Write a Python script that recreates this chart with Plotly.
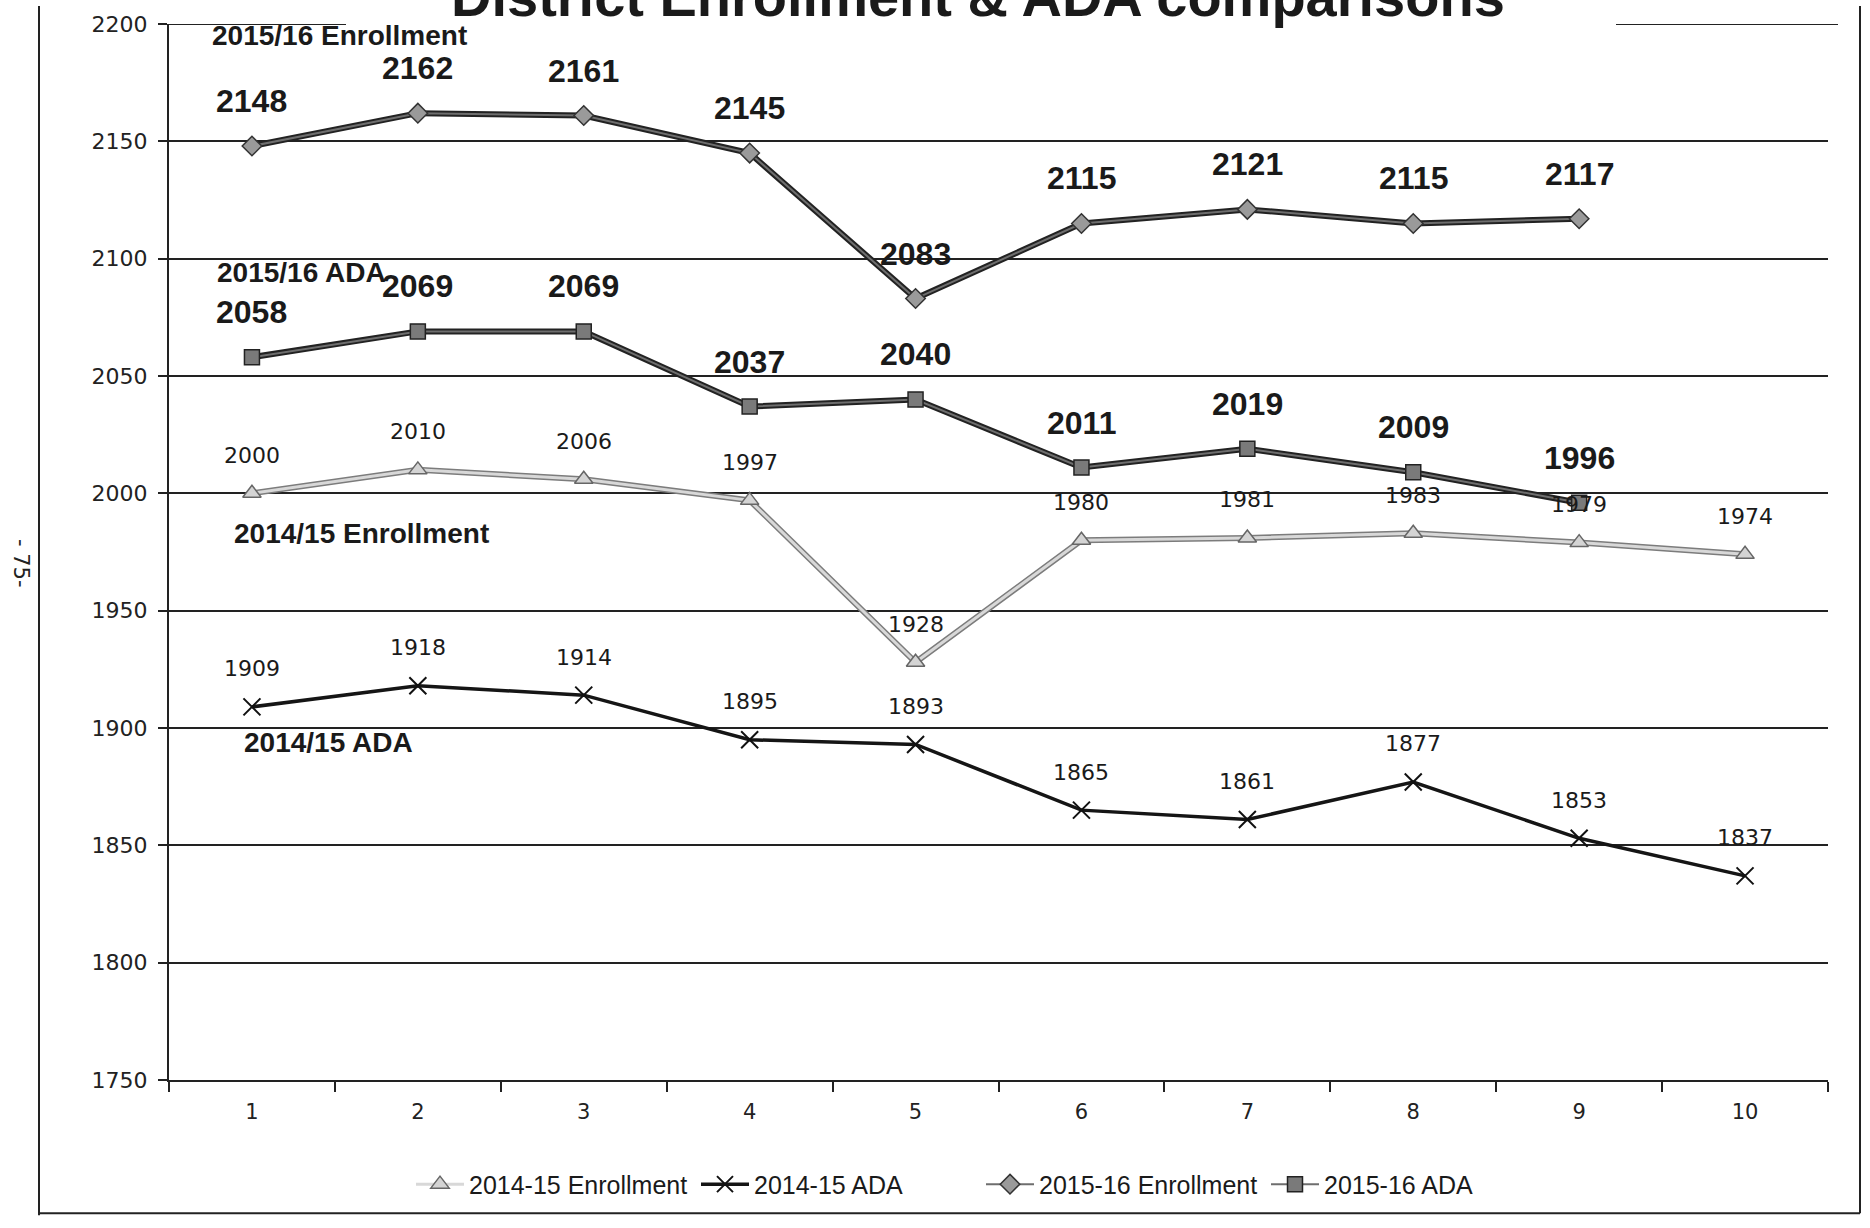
import plotly.graph_objects as go

# ---- data ----
months = ["1", "2", "3", "4", "5", "6", "7", "8", "9", "10"]
enroll_1415 = [2000, 2010, 2006, 1997, 1928, 1980, 1981, 1983, 1979, 1974]
ada_1415 = [1909, 1918, 1914, 1895, 1893, 1865, 1861, 1877, 1853, 1837]
enroll_1516 = [2148, 2162, 2161, 2145, 2083, 2115, 2121, 2115, 2117]
ada_1516 = [2058, 2069, 2069, 2037, 2040, 2011, 2019, 2009, 1996]

y_ticks = [1750, 1800, 1850, 1900, 1950, 2000, 2050, 2100, 2150, 2200]

title_text = "District Enrollment & ADA comparisons"
legend_names = ["2014-15 Enrollment", "2014-15 ADA", "2015-16 Enrollment", "2015-16 ADA"]
series_tags = ["2014/15 Enrollment", "2014/15 ADA", "2015/16 Enrollment", "2015/16 ADA"]

# ---- page geometry (pixels) ----
W, H = 1870, 1228
L, R, T, B = 169, 1828, 18, 1080


def fx(p):
    return (p - L) / (R - L)


def fy(p):
    return (B - p) / (B - T)


BOLD = "Liberation Sans, Arial, sans-serif"
PLAIN = "DejaVu Sans, Verdana, sans-serif"

fig = go.Figure()

# 2014-15 enrollment: light grey double-edged line
fig.add_trace(go.Scatter(x=months, y=enroll_1415, mode="lines",
                         line=dict(color="#7c7c7c", width=6),
                         showlegend=False, hoverinfo="skip"))
fig.add_trace(go.Scatter(x=months, y=enroll_1415, mode="lines+markers",
                         name=legend_names[0],
                         line=dict(color="#d8d8d8", width=3),
                         marker=dict(symbol="triangle-up", size=16, color="#d4d4d4",
                                     line=dict(color="#666", width=1.5))))

# 2014-15 ADA: black line with x markers
fig.add_trace(go.Scatter(x=months, y=ada_1415, mode="lines+markers",
                         name=legend_names[1],
                         line=dict(color="#151515", width=3.5),
                         marker=dict(symbol="x-thin", size=17, color="#111",
                                     line=dict(color="#111", width=2))))

# 2015-16 enrollment: dark line with grey diamonds
fig.add_trace(go.Scatter(x=months[:len(enroll_1516)], y=enroll_1516, mode="lines",
                         line=dict(color="#222222", width=6),
                         showlegend=False, hoverinfo="skip"))
fig.add_trace(go.Scatter(x=months[:len(enroll_1516)], y=enroll_1516, mode="lines+markers",
                         name=legend_names[2],
                         line=dict(color="#6e6e6e", width=2),
                         marker=dict(symbol="diamond", size=15, color="#9a9a9a",
                                     line=dict(color="#333", width=1.5))))

# 2015-16 ADA: dark line with grey squares
fig.add_trace(go.Scatter(x=months[:len(ada_1516)], y=ada_1516, mode="lines",
                         line=dict(color="#222222", width=6),
                         showlegend=False, hoverinfo="skip"))
fig.add_trace(go.Scatter(x=months[:len(ada_1516)], y=ada_1516, mode="lines+markers",
                         name=legend_names[3],
                         line=dict(color="#6e6e6e", width=2),
                         marker=dict(symbol="square", size=15, color="#7a7a7a",
                                     line=dict(color="#222", width=1.5))))

annotations = []

# value labels above each point
for vals, bold in [(enroll_1415, False), (ada_1415, False),
                   (enroll_1516, True), (ada_1516, True)]:
    for i, v in enumerate(vals):
        annotations.append(dict(
            x=i, y=v, xref="x", yref="y",
            text=("<b>%d</b>" % v) if bold else str(v), showarrow=False,
            yshift=45 if bold else 38,
            font=dict(family=BOLD if bold else PLAIN,
                      size=32 if bold else 22, color="#1a1a1a"),
            xanchor="center", yanchor="middle"))

# series tags written inside the plot
tag_pos = [(0.66, 1983), (0.46, 1894), (0.53, 2195), (0.30, 2094)]
for tag, (tx, ty) in zip(series_tags, tag_pos):
    annotations.append(dict(x=tx, y=ty, xref="x", yref="y", text="<b>%s</b>" % tag,
                            showarrow=False, xanchor="center", yanchor="middle",
                            font=dict(family=BOLD, size=28, color="#1a1a1a")))

# title (runs off the top edge of the page)
annotations.append(dict(x=fx(978), y=fy(-10), xref="paper", yref="paper",
                        text="<b>%s</b>" % title_text, showarrow=False,
                        xanchor="center", yanchor="middle",
                        font=dict(family=BOLD, size=56, color="#1a1a1a")))

# page number in the margin
annotations.append(dict(x=fx(21), y=fy(560), xref="paper", yref="paper",
                        text="- 75-", showarrow=False, textangle=90,
                        xanchor="center", yanchor="middle",
                        font=dict(family=PLAIN, size=21, color="#222")))

shapes = [
    # top grid line, interrupted where the title sits
    dict(type="line", xref="paper", yref="y", x0=0, x1=fx(346), y0=2200, y1=2200,
         line=dict(color="#222", width=2)),
    dict(type="line", xref="paper", yref="y", x0=fx(1616), x1=fx(1838), y0=2200, y1=2200,
         line=dict(color="#222", width=2)),
    # outer frame of the chart box
    dict(type="line", xref="paper", yref="paper", x0=fx(39), x1=fx(39),
         y0=fy(0), y1=fy(1216), line=dict(color="#222", width=2)),
    dict(type="line", xref="paper", yref="paper", x0=fx(39), x1=fx(1860),
         y0=fy(1214), y1=fy(1214), line=dict(color="#222", width=2)),
    dict(type="line", xref="paper", yref="paper", x0=fx(1860), x1=fx(1860),
         y0=fy(0), y1=fy(1214), line=dict(color="#222", width=2)),
]

fig.update_layout(
    width=W, height=H,
    margin=dict(l=L, r=W - R, t=T, b=H - B, pad=0),
    paper_bgcolor="white", plot_bgcolor="white",
    annotations=annotations, shapes=shapes,
    legend=dict(orientation="h", x=fx(411), y=fy(1185), xanchor="left",
                yanchor="middle", font=dict(family=BOLD, size=25, color="#1a1a1a"),
                itemwidth=48, entrywidth=222, entrywidthmode="pixels",
                bgcolor="rgba(0,0,0,0)", tracegroupgap=0),
    xaxis=dict(type="category", categoryorder="array", categoryarray=months,
               range=[-0.5, 9.5], tickson="boundaries", ticks="outside",
               ticklen=10, tickcolor="#222", tickwidth=1.5,
               showline=True, linecolor="#222", linewidth=2,
               showgrid=False, zeroline=False, ticklabelstandoff=12,
               tickfont=dict(family=PLAIN, size=21, color="#222")),
    yaxis=dict(range=[1750, 2200], tickvals=y_ticks, ticks="outside", ticklen=9,
               tickcolor="#222", tickwidth=1.5, showline=True, linecolor="#222",
               linewidth=2, showgrid=True, gridcolor="#222", gridwidth=1.5,
               zeroline=False, ticklabelstandoff=6,
               tickfont=dict(family=PLAIN, size=22, color="#222")),
)

fig.write_html("out.html")
